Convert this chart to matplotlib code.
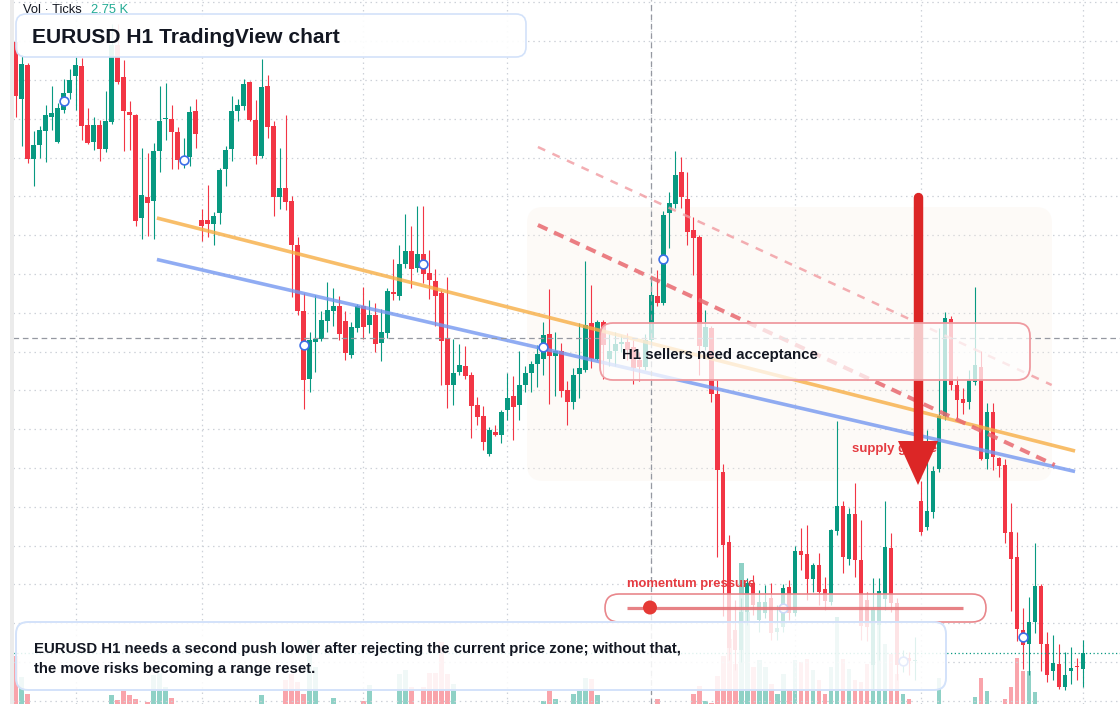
import matplotlib
matplotlib.use("Agg")
import matplotlib.pyplot as plt
from matplotlib.patches import FancyBboxPatch, Rectangle, Polygon, Circle
import numpy as np

# ---------------- data (EURUSD H1) ----------------
opens = [
    1.08716, 1.08602, 1.08670, 1.08482, 1.08510, 1.08538, 1.08566, 1.08516, 1.08580, 1.08615,
    1.08648, 1.08668, 1.08550, 1.08516, 1.08550, 1.08503, 1.08557, 1.08710, 1.08646, 1.08576,
    1.08570, 1.08365, 1.08407, 1.08398, 1.08498, 1.08563, 1.08562, 1.08536, 1.08476, 1.08487,
    1.08578, 1.08360, 1.08360, 1.08352, 1.08374, 1.08462, 1.08502, 1.08578, 1.08589, 1.08636,
    1.08561, 1.08489, 1.08628, 1.08548, 1.08407, 1.08425, 1.08398, 1.08311, 1.08178, 1.08042,
    1.08117, 1.08122, 1.08158, 1.08179, 1.08188, 1.08158, 1.08091, 1.08144, 1.08188, 1.08150,
    1.08170, 1.08114, 1.08134, 1.08216, 1.08208, 1.08273, 1.08298, 1.08264, 1.08292, 1.08254,
    1.08238, 1.08214, 1.08122, 1.08030, 1.08057, 1.08068, 1.08050, 1.07990, 1.07968, 1.07892,
    1.07936, 1.07930, 1.07980, 1.08008, 1.07990, 1.08030, 1.08055, 1.08072, 1.08083, 1.08133,
    1.08089, 1.08099, 1.08021, 1.07996, 1.08053, 1.08061, 1.08154, 1.08083, 1.08157, 1.08083,
    1.08098, 1.08112, 1.08117, 1.08106, 1.08080, 1.08066, 1.08120, 1.08209, 1.08195, 1.08374,
    1.08392, 1.08456, 1.08402, 1.08340, 1.08326, 1.08106, 1.08144, 1.08013, 1.07856, 1.07716,
    1.07540, 1.07500, 1.07576, 1.07634, 1.07560, 1.07574, 1.07604, 1.07536, 1.07546, 1.07626,
    1.07574, 1.07699, 1.07692, 1.07642, 1.07670, 1.07622, 1.07597, 1.07739, 1.07788, 1.07682,
    1.07773, 1.07680, 1.07600, 1.07470, 1.07550, 1.07602, 1.07704, 1.07594, 1.07476, 1.07484,
    1.07478, 1.07798, 1.07746, 1.07776, 1.07862, 1.07969, 1.08163, 1.08030, 1.08002, 1.07996,
    1.08036, 1.08066, 1.07883, 1.07976, 1.07884, 1.07870, 1.07736, 1.07687, 1.07540, 1.07513,
    1.07557, 1.07629, 1.07513, 1.07458, 1.07472, 1.07426, 1.07458, 1.07469, 1.07462,
]
highs = [
    1.08740, 1.08690, 1.08674, 1.08538, 1.08548, 1.08590, 1.08628, 1.08594, 1.08642, 1.08662,
    1.08686, 1.08684, 1.08584, 1.08566, 1.08560, 1.08618, 1.08752, 1.08752, 1.08680, 1.08598,
    1.08572, 1.08504, 1.08494, 1.08514, 1.08628, 1.08634, 1.08590, 1.08546, 1.08524, 1.08588,
    1.08602, 1.08382, 1.08430, 1.08377, 1.08464, 1.08508, 1.08608, 1.08602, 1.08642, 1.08638,
    1.08600, 1.08683, 1.08650, 1.08559, 1.08504, 1.08570, 1.08408, 1.08326, 1.08215, 1.08137,
    1.08210, 1.08178, 1.08236, 1.08224, 1.08208, 1.08178, 1.08157, 1.08193, 1.08227, 1.08200,
    1.08195, 1.08182, 1.08224, 1.08282, 1.08311, 1.08373, 1.08349, 1.08388, 1.08388, 1.08301,
    1.08263, 1.08220, 1.08246, 1.08123, 1.08112, 1.08108, 1.08056, 1.08006, 1.07988, 1.07946,
    1.07951, 1.07980, 1.08055, 1.08048, 1.08099, 1.08068, 1.08078, 1.08110, 1.08157, 1.08223,
    1.08136, 1.08114, 1.08038, 1.08064, 1.08154, 1.08278, 1.08230, 1.08161, 1.08161, 1.08132,
    1.08136, 1.08130, 1.08134, 1.08120, 1.08096, 1.08132, 1.08246, 1.08260, 1.08379, 1.08417,
    1.08498, 1.08486, 1.08456, 1.08366, 1.08330, 1.08180, 1.08148, 1.08042, 1.07873, 1.07730,
    1.07600, 1.07604, 1.07644, 1.07650, 1.07620, 1.07630, 1.07634, 1.07590, 1.07632, 1.07640,
    1.07708, 1.07744, 1.07750, 1.07674, 1.07694, 1.07646, 1.07742, 1.07958, 1.07798, 1.07784,
    1.07835, 1.07760, 1.07616, 1.07644, 1.07644, 1.07798, 1.07734, 1.07604, 1.07500, 1.07496,
    1.07526, 1.07839, 1.07941, 1.07869, 1.08144, 1.08176, 1.08168, 1.08049, 1.08024, 1.08061,
    1.08226, 1.08098, 1.07994, 1.07994, 1.07886, 1.07882, 1.07794, 1.07736, 1.07585, 1.07606,
    1.07714, 1.07632, 1.07537, 1.07530, 1.07513, 1.07496, 1.07507, 1.07484, 1.07520,
]
lows = [
    1.08566, 1.08508, 1.08474, 1.08428, 1.08484, 1.08476, 1.08540, 1.08514, 1.08574, 1.08602,
    1.08580, 1.08520, 1.08512, 1.08500, 1.08478, 1.08496, 1.08552, 1.08632, 1.08498, 1.08500,
    1.08348, 1.08322, 1.08328, 1.08322, 1.08457, 1.08520, 1.08462, 1.08462, 1.08464, 1.08468,
    1.08504, 1.08318, 1.08326, 1.08311, 1.08352, 1.08428, 1.08479, 1.08559, 1.08580, 1.08559,
    1.08472, 1.08484, 1.08525, 1.08368, 1.08383, 1.08381, 1.08206, 1.08170, 1.07983, 1.08017,
    1.08057, 1.08119, 1.08136, 1.08148, 1.08120, 1.08080, 1.08084, 1.08136, 1.08123, 1.08134,
    1.08096, 1.08079, 1.08124, 1.08200, 1.08200, 1.08265, 1.08224, 1.08256, 1.08234, 1.08202,
    1.08148, 1.08030, 1.07985, 1.07990, 1.08051, 1.08042, 1.07924, 1.07950, 1.07900, 1.07888,
    1.07928, 1.07914, 1.07960, 1.07920, 1.07960, 1.08017, 1.08017, 1.08027, 1.08051, 1.07992,
    1.08008, 1.08006, 1.07951, 1.07982, 1.08004, 1.08057, 1.08064, 1.08080, 1.08042, 1.08068,
    1.08068, 1.08096, 1.08080, 1.08032, 1.08038, 1.08060, 1.08114, 1.08188, 1.08190, 1.08304,
    1.08384, 1.08384, 1.08311, 1.08250, 1.08051, 1.08100, 1.07996, 1.07687, 1.07568, 1.07480,
    1.07460, 1.07476, 1.07550, 1.07570, 1.07536, 1.07564, 1.07520, 1.07520, 1.07536, 1.07560,
    1.07568, 1.07660, 1.07600, 1.07616, 1.07590, 1.07580, 1.07590, 1.07730, 1.07654, 1.07670,
    1.07646, 1.07520, 1.07518, 1.07420, 1.07480, 1.07580, 1.07576, 1.07440, 1.07456, 1.07450,
    1.07440, 1.07730, 1.07740, 1.07764, 1.07856, 1.07960, 1.08020, 1.07962, 1.07973, 1.07982,
    1.08030, 1.07880, 1.07863, 1.07860, 1.07846, 1.07714, 1.07578, 1.07518, 1.07462, 1.07450,
    1.07534, 1.07458, 1.07437, 1.07441, 1.07422, 1.07420, 1.07432, 1.07441, 1.07426,
]
closes = [
    1.08608, 1.08672, 1.08482, 1.08510, 1.08540, 1.08570, 1.08574, 1.08584, 1.08615, 1.08640,
    1.08670, 1.08548, 1.08514, 1.08550, 1.08503, 1.08558, 1.08710, 1.08636, 1.08579, 1.08571,
    1.08359, 1.08410, 1.08394, 1.08498, 1.08558, 1.08564, 1.08536, 1.08480, 1.08484, 1.08576,
    1.08533, 1.08349, 1.08352, 1.08368, 1.08460, 1.08500, 1.08578, 1.08590, 1.08632, 1.08561,
    1.08489, 1.08626, 1.08547, 1.08407, 1.08424, 1.08396, 1.08310, 1.08178, 1.08041, 1.08120,
    1.08122, 1.08161, 1.08180, 1.08188, 1.08133, 1.08095, 1.08146, 1.08188, 1.08146, 1.08170,
    1.08112, 1.08136, 1.08218, 1.08213, 1.08272, 1.08298, 1.08263, 1.08292, 1.08252, 1.08240,
    1.08208, 1.08119, 1.08030, 1.08055, 1.08070, 1.08048, 1.07988, 1.07967, 1.07917, 1.07940,
    1.07931, 1.07977, 1.08004, 1.07986, 1.08030, 1.08054, 1.08072, 1.08093, 1.08130, 1.08089,
    1.08099, 1.08019, 1.07996, 1.08051, 1.08064, 1.08150, 1.08083, 1.08157, 1.08110, 1.08098,
    1.08112, 1.08117, 1.08100, 1.08064, 1.08066, 1.08120, 1.08210, 1.08195, 1.08370, 1.08394,
    1.08450, 1.08407, 1.08337, 1.08324, 1.08108, 1.08146, 1.08013, 1.07860, 1.07710, 1.07504,
    1.07500, 1.07576, 1.07634, 1.07590, 1.07596, 1.07596, 1.07534, 1.07544, 1.07624, 1.07574,
    1.07699, 1.07690, 1.07642, 1.07670, 1.07617, 1.07599, 1.07740, 1.07788, 1.07686, 1.07773,
    1.07680, 1.07549, 1.07546, 1.07580, 1.07618, 1.07706, 1.07594, 1.07470, 1.07480, 1.07478,
    1.07480, 1.07737, 1.07778, 1.07858, 1.07969, 1.08165, 1.08030, 1.08000, 1.07994, 1.08040,
    1.08070, 1.07883, 1.07977, 1.07886, 1.07869, 1.07735, 1.07682, 1.07543, 1.07511, 1.07557,
    1.07629, 1.07513, 1.07450, 1.07475, 1.07426, 1.07450, 1.07465, 1.07467, 1.07494,
]
volumes_k = [
    4.8, 2.7, 1.0, 0, 0, 0, 0, 0, 0, 0,
    0, 0, 0, 0, 0, 0, 0.9, 0.4, 1.4, 0.9,
    0.5, 0, 0.2, 2.9, 3.1, 1.7, 0.6, 0, 0, 0,
    0, 0, 0, 0, 0, 0, 0, 0, 0, 0,
    0, 0.9, 0, 0, 0, 2.4, 3.0, 2.2, 1.0, 6.4,
    3.7, 0, 0, 0.6, 0, 0, 0, 0, 0.3, 1.9,
    0, 0, 0, 0, 3.0, 3.4, 1.7, 0, 1.7, 3.1,
    3.1, 6.2, 3.0, 2.0, 0, 0, 0, 0, 0, 0,
    0, 0, 0, 0, 0, 0, 0, 0, 0.3, 1.4,
    0.5, 0, 0, 1.0, 1.3, 2.6, 2.5, 0.9, 0, 0,
    0, 0, 0, 0, 0, 0, 0, 0.5, 0, 0,
    0, 0, 0, 1.0, 1.8, 0.3, 0.1, 2.8, 4.8, 6.5,
    4.0, 14.1, 9.2, 3.7, 4.4, 3.7, 2.0, 1.0, 3.0, 1.5,
    4.4, 4.2, 4.5, 3.4, 2.4, 1.0, 3.7, 8.7, 4.5, 3.5,
    2.4, 2.2, 4.0, 9.6, 10.6, 6.0, 5.0, 3.0, 1.0, 0.5,
    0, 0, 0, 0, 2.6, 0, 0, 0, 0, 0,
    0.7, 2.6, 1.3, 0, 0, 0.5, 1.7, 4.6, 3.3, 3.3,
    1.2, 0, 0, 0, 0, 0, 0, 0, 0,
]
marker_idx = [8, 28, 48, 68, 88, 108, 128, 148, 168]
time_grid_idx = [10, 31, 58, 82, 106, 130, 151, 178]
crosshair_idx = 106
crosshair_price = 1.08124
# trend lines: (bar index pair, price pair)
orange_x, orange_y = [23.55, 176.7], [1.08364, 1.07898]
blue_x, blue_y = [23.55, 176.7], [1.08281, 1.07857]
red_dash_x, red_dash_y = [87.1, 173.3], [1.08350, 1.07870]
pink_dash_x, pink_dash_y = [87.1, 172.8], [1.08506, 1.08030]

title = "EURUSD H1 TradingView chart"
vol_label, vol_value = "Vol · Ticks", "2.75 K"
note_text = "H1 sellers need acceptance"
bottom_lines = ["EURUSD H1 needs a second push lower after rejecting the current price zone; without that,",
                "the move risks becoming a range reset."]
momentum_label = "momentum pressure"
supply_label = "supply gauge"

# ---------------- styling / layout ----------------
W, H = 1120, 704
UP, DOWN = "#089981", "#f23645"
FONT = ["Liberation Sans", "DejaVu Sans"]
DARK = "#131722"
XLIM = (-2.627, 184.195)
YLIM = (1.07392, 1.08800)
GRID_TOP, GRID_STEP = 1.087954, 0.000776

fig = plt.figure(figsize=(W / 100, H / 100), dpi=100, facecolor="white")
axv = fig.add_axes([0, 0, 1, 1])
ax = fig.add_axes([0, 0, 1, 1])
ov = fig.add_axes([0, 0, 1, 1])
axv.set_zorder(1); ax.set_zorder(2); ov.set_zorder(3)
for a in (axv, ax, ov):
    a.patch.set_visible(False)
    a.axis("off")
axv.set_xlim(*XLIM); axv.set_ylim(0, 70.4)
ax.set_xlim(*XLIM); ax.set_ylim(*YLIM)
ov.set_xlim(0, W); ov.set_ylim(H, 0)

o = np.array(opens); c = np.array(closes); h = np.array(highs); l = np.array(lows)
idx = np.arange(len(o))
up = c >= o
cols = np.where(up, UP, DOWN)

# grid
gx0 = 13 / W
for k in range(19):
    ax.axhline(GRID_TOP - k * GRID_STEP, xmin=gx0, color="#cdd1d8", lw=0.9,
               linestyle=(0, (1.2, 3)), zorder=0)
for gi in time_grid_idx:
    ax.axvline(gi, color="#cdd1d8", lw=0.9, linestyle=(0, (1.2, 3)), zorder=0)

# volume
vcols = np.where(up, "#089981", "#f23645")
axv.bar(idx, volumes_k, width=0.8, color=vcols, alpha=0.45, lw=0, zorder=1)

# highlight zone (pixel space)
ax.add_patch(FancyBboxPatch((527, 207), 525, 274, boxstyle="round,pad=0,rounding_size=16",
                            transform=ov.transData, fc="#f9eee2", ec="none", alpha=0.25, zorder=0.5))

# candles
ax.vlines(idx, l, h, colors=cols, lw=0.8, zorder=3)
body_h = np.maximum(np.abs(c - o), 0.00002)
ax.bar(idx, body_h, bottom=np.minimum(o, c), width=0.78, color=cols, lw=0, zorder=4)

# trend lines
ax.plot(orange_x, orange_y, color="#f7ae45", lw=2.6, alpha=0.8, solid_capstyle="butt", zorder=5)
ax.plot(blue_x, blue_y, color="#7598f0", lw=2.6, alpha=0.8, solid_capstyle="butt", zorder=5)
ax.plot(red_dash_x, red_dash_y, color="#e8686f", lw=2.9, alpha=0.85,
        linestyle=(0, (2.6, 1.8)), zorder=5)
ax.plot(pink_dash_x, pink_dash_y, color="#f19aa0", lw=1.8, alpha=0.8,
        linestyle=(0, (3.2, 3.2)), zorder=5)

# crosshair and last price
ax.axvline(crosshair_idx, color="#9598a1", lw=0.9, linestyle=(0, (4.5, 3)), zorder=6)
ax.axhline(crosshair_price, xmin=gx0, color="#9598a1", lw=0.9, linestyle=(0, (4.5, 3)), zorder=6)
ax.axhline(closes[-1], xmin=gx0, color=UP, lw=0.9, linestyle=(0, (1, 2)), zorder=6)

# markers
mi = np.array(marker_idx)
ax.scatter(mi, (o[mi] + c[mi]) / 2, s=40, facecolor="white", edgecolor="#3d6fe8",
           linewidths=1.2, zorder=7)

# ---------------- overlay annotations (pixel space) ----------------
ov.add_patch(Rectangle((10, 0), 3.5, H, fc="#ebebeb", ec="none", zorder=0))

ov.text(23, 12.7, vol_label, fontsize=9.3, color=DARK, family=FONT, va="baseline", zorder=5)
ov.text(91, 12.7, vol_value, fontsize=9.3, color="#22ab94", family=FONT, va="baseline", zorder=5)

ov.add_patch(FancyBboxPatch((16, 14), 510, 43, boxstyle="round,pad=0,rounding_size=10",
                            fc=(1, 1, 1, 0.92), ec="#d3e2fa", lw=1.2, zorder=2))
ov.text(32, 43.3, title, fontsize=15.1, weight="bold", color=DARK, family=FONT,
        va="baseline", zorder=3)

# supply label under arrow
ov.text(851.5, 452.3, supply_label, fontsize=9.5, weight="bold", color="#e53b41", family=FONT,
        va="baseline", zorder=1)
ov.plot([918, 918], [197, 446], color="#dc2626", lw=6.8, solid_capstyle="round", zorder=1.5)
ov.add_patch(Polygon([(898, 441), (938, 441), (918, 485)], closed=True, fc="#dc2626",
                     ec="none", zorder=1.6))

# note box
ov.add_patch(FancyBboxPatch((600, 323), 430, 57, boxstyle="round,pad=0,rounding_size=13",
                            fc=(1, 1, 1, 0.74), ec="#ef9aa0", lw=1.3, zorder=2))
ov.text(622.5, 359.3, note_text, fontsize=10.8, weight="bold", color=DARK, family=FONT,
        va="baseline", zorder=3)

# momentum gauge
ov.text(627, 586.7, momentum_label, fontsize=9.4, weight="bold", color="#e53b41", family=FONT,
        va="baseline", zorder=3)
ov.add_patch(FancyBboxPatch((605, 594), 381, 28, boxstyle="round,pad=0,rounding_size=14",
                            fc=(1, 1, 1, 0.74), ec="#e9878c", lw=1.2, zorder=2))
ov.plot([627, 963], [607.5, 607.5], color="#e57479", lw=2.3, alpha=0.9,
        solid_capstyle="butt", zorder=3)
ov.add_patch(Circle((650, 607.5), 7, fc="#e53935", ec="none", zorder=3.5))

# bottom summary box
ov.add_patch(FancyBboxPatch((16, 622), 930, 68, boxstyle="round,pad=0,rounding_size=12",
                            fc=(1, 1, 1, 0.87), ec="#d3e2fa", lw=1.4, zorder=2.2))
ov.text(34.3, 653.3, bottom_lines[0], fontsize=10.8, weight="bold", color=DARK, family=FONT,
        va="baseline", zorder=3)
ov.text(34.3, 673.3, bottom_lines[1], fontsize=10.8, weight="bold", color=DARK, family=FONT,
        va="baseline", zorder=3)

fig.savefig("out.png", dpi=100, facecolor="white")
